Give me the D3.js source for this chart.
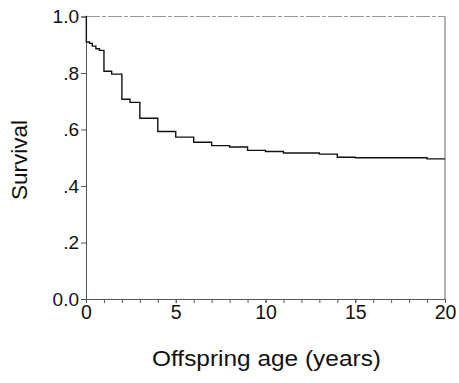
<!DOCTYPE html>
<html>
<head>
<meta charset="utf-8">
<script src="https://cdn.jsdelivr.net/npm/d3@7"></script>
<style>
  html, body { margin: 0; padding: 0; background: #fff; }
  svg { display: block; }
  text { font-family: "Liberation Sans", Arial, sans-serif; fill: #111; }
</style>
</head>
<body>
<svg id="chart" width="459" height="383"></svg>
<script>
// Kaplan-Meier step data (time in years, survival proportion)
const times    = [0, 0.02, 0.2, 0.35, 0.55, 0.75, 1.0, 1.43, 2.0, 2.45, 3.0, 4.0, 5.0, 6.0, 7.0, 8.0, 9.0, 10.0, 11.0, 13.0, 14.0, 15.0, 19.0, 20.0];
const survival = [1.0, 0.91, 0.905, 0.895, 0.886, 0.88, 0.806, 0.796, 0.707, 0.696, 0.640, 0.593, 0.573, 0.555, 0.543, 0.538, 0.526, 0.522, 0.517, 0.513, 0.502, 0.500, 0.496, 0.496];
const xTicks = [0, 5, 10, 15, 20];
const xMinorTicks = d3.range(0, 21, 1);
const yTicks = [0, 0.2, 0.4, 0.6, 0.8, 1.0];
const yTickLabels = ["0.0", ".2", ".4", ".6", ".8", "1.0"];
const xTitle = "Offspring age (years)";
const yTitle = "Survival";

const svg = d3.select("#chart");
const L = 86, R = 445, T = 16.5, B = 299;

const x = d3.scaleLinear().domain([0, 20]).range([L, R]);
const y = d3.scaleLinear().domain([0, 1]).range([B, T]);

// frame top & right
svg.append("line").attr("x1", L).attr("x2", R).attr("y1", T).attr("y2", T)
  .attr("stroke", "#999").attr("stroke-width", 1).attr("stroke-dasharray", "14,2,4,2");
svg.append("line").attr("x1", R).attr("x2", R).attr("y1", T).attr("y2", B)
  .attr("stroke", "#666").attr("stroke-width", 1);

// x axis
const xAxis = svg.append("g").attr("transform", `translate(0,${B})`);
xAxis.call(d3.axisBottom(x).tickValues(xMinorTicks).tickSize(4).tickFormat(""))
  .call(g => g.select(".domain").attr("stroke", "#555"))
  .call(g => g.selectAll(".tick line").attr("stroke", "#555"));
const xLab = svg.append("g").attr("transform", `translate(0,${B})`);
xLab.call(d3.axisBottom(x).tickValues(xTicks).tickSize(4).tickPadding(2).tickFormat(d3.format("d")))
  .call(g => g.select(".domain").remove())
  .call(g => g.selectAll(".tick line").attr("stroke", "#555"))
  .call(g => g.selectAll(".tick text").attr("font-size", 19.5).attr("fill", "#111")
    .attr("font-family", "Liberation Sans, Arial, sans-serif"));

// y axis
const yAxis = svg.append("g").attr("transform", `translate(${L},0)`);
yAxis.call(d3.axisLeft(y).tickValues(yTicks).tickSize(5).tickPadding(2)
    .tickFormat((d, i) => yTickLabels[i]))
  .call(g => g.select(".domain").attr("stroke", "#555"))
  .call(g => g.selectAll(".tick line").attr("stroke", "#555"))
  .call(g => g.selectAll(".tick text").attr("font-size", 19).attr("fill", "#111")
    .attr("font-family", "Liberation Sans, Arial, sans-serif"));

// survival curve
const pts = times.map((t, i) => [t, survival[i]]);
const line = d3.line().x(d => x(d[0])).y(d => y(d[1])).curve(d3.curveStepAfter);
svg.append("path").datum(pts).attr("d", line)
  .attr("fill", "none").attr("stroke", "#111").attr("stroke-width", 1.4);

// titles
svg.append("text").attr("x", 266.5).attr("y", 366).attr("text-anchor", "middle")
  .attr("font-size", 22).attr("textLength", 229).attr("lengthAdjust", "spacingAndGlyphs")
  .text(xTitle);
svg.append("text").attr("transform", "translate(27,160) rotate(-90)")
  .attr("text-anchor", "middle").attr("font-size", 22.5).text(yTitle);
</script>
</body>
</html>
